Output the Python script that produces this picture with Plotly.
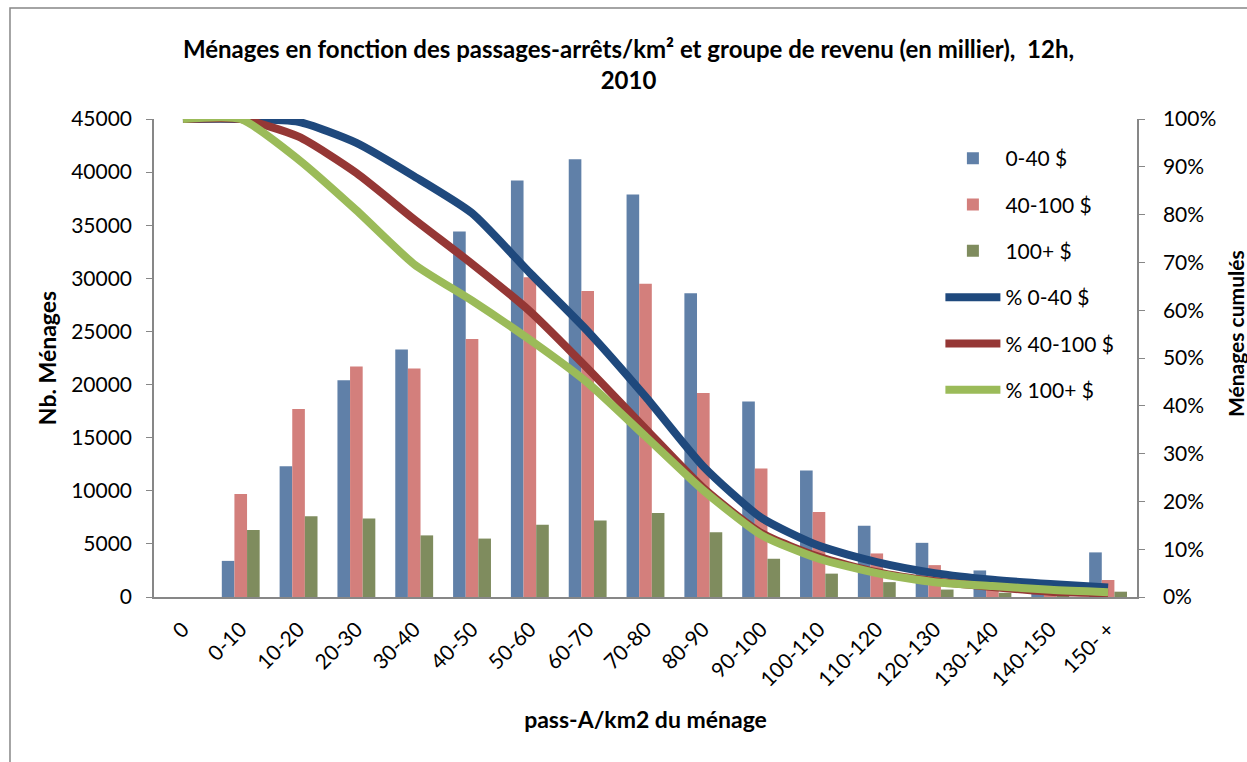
import plotly.graph_objects as go

# Density classes (pass-A/km2) on the category axis
categories = ["0", "0-10", "10-20", "20-30", "30-40", "40-50", "50-60", "60-70",
              "70-80", "80-90", "90-100", "100-110", "110-120", "120-130",
              "130-140", "140-150", "150- +"]

# Households per income group (thousands of $)
menages_0_40 = [0, 3400, 12300, 20400, 23300, 34400, 39200, 41200, 37900,
                28600, 18400, 11900, 6700, 5100, 2500, 600, 4200]
menages_40_100 = [0, 9700, 17700, 21700, 21500, 24300, 30100, 28800, 29500,
                  19200, 12100, 8000, 4100, 3000, 700, 200, 1600]
menages_100_plus = [0, 6300, 7600, 7400, 5800, 5500, 6800, 7200, 7900,
                    6100, 3600, 2200, 1400, 700, 400, 100, 500]

# Cumulative share of households (%), per income group
cumul_0_40 = [100, 100, 99.4, 95.0, 88.0, 80.3, 67.8, 55.6, 41.9, 27.3,
              16.6, 10.7, 7.3, 5.0, 3.6, 2.7, 2.0]
cumul_40_100 = [100, 100, 96.3, 88.7, 79.0, 69.7, 59.8, 47.8, 35.2, 22.8,
                13.4, 8.4, 5.2, 3.3, 2.1, 1.1, 0.8]
cumul_100_plus = [100, 100, 91.5, 80.9, 69.6, 62.0, 53.8, 44.8, 33.6, 22.3,
                  13.0, 8.0, 5.0, 3.1, 2.3, 1.5, 1.0]

FONT = "Lato"
AXIS_GREY = "#878787"
TICK_SIZE = 21

bar_series = [
    ("0-40 $", menages_0_40, "#6080A8"),
    ("40-100 $", menages_40_100, "#D37F7C"),
    ("100+ $", menages_100_plus, "#7F8C5E"),
]
line_series = [
    ("% 0-40 $", cumul_0_40, "#1F497D"),
    ("% 40-100 $", cumul_40_100, "#953735"),
    ("% 100+ $", cumul_100_plus, "#9BBB59"),
]

fig = go.Figure()

for i, (name, vals, fill) in enumerate(bar_series):
    fig.add_trace(go.Bar(
        x=categories, y=vals, name=name, legendgroup=f"g{i}",
        marker=dict(color=fill, line=dict(width=0)),
        yaxis="y",
    ))

for j, (name, vals, col) in enumerate(line_series):
    fig.add_trace(go.Scatter(
        x=categories, y=[v / 100 for v in vals], name=name,
        legendgroup=f"l{j}", mode="lines",
        line=dict(color=col, width=8, shape="spline", smoothing=0.6),
        yaxis="y2",
    ))

fig.update_layout(
    width=1247, height=762,
    margin=dict(l=154, r=110, t=119, b=165),
    paper_bgcolor="white", plot_bgcolor="white",
    font=dict(family=FONT, size=TICK_SIZE, color="black"),
    barmode="group", bargap=0.345, bargroupgap=0,
    title=dict(
        text="Ménages en fonction des passages-arrêts/km² et groupe de revenu (en millier),  12h,<br>2010",
        x=0.504, xanchor="center", y=1 - 58 / 762, yanchor="middle",
        font=dict(family=FONT, size=24, color="black", weight="bold"),
    ),
    xaxis=dict(
        type="category", tickangle=-45, showline=True, linecolor=AXIS_GREY,
        linewidth=1.5, ticks="", showgrid=False, zeroline=False,
        tickfont=dict(size=TICK_SIZE), ticklabelstandoff=10,
        title=dict(text="pass-A/km2 du ménage", standoff=22,
                   font=dict(size=23, weight="bold")),
    ),
    yaxis=dict(
        range=[0, 45000], dtick=5000, tickformat="d", showline=True,
        linecolor=AXIS_GREY, linewidth=1.5, ticks="outside", ticklen=6,
        tickcolor=AXIS_GREY, showgrid=False, zeroline=False,
        tickfont=dict(size=TICK_SIZE), ticklabelstandoff=10,
        title=dict(text="Nb. Ménages", standoff=8,
                   font=dict(size=23, weight="bold")),
    ),
    yaxis2=dict(
        range=[0, 1], dtick=0.1, tickformat=".0%", overlaying="y",
        side="right", showline=True, linecolor=AXIS_GREY, linewidth=1.5,
        ticks="outside", ticklen=6, tickcolor=AXIS_GREY, showgrid=False,
        zeroline=False, tickfont=dict(size=TICK_SIZE), ticklabelstandoff=14,
    ),
    legend=dict(
        x=0.80, y=0.96, xanchor="left", yanchor="top",
        bgcolor="rgba(0,0,0,0)", font=dict(size=TICK_SIZE),
        tracegroupgap=16, itemwidth=55, traceorder="grouped",
    ),
    showlegend=True,
)

# Secondary axis title, set against the right edge of the canvas
fig.add_annotation(
    text="<b>Ménages cumulés</b>", xref="paper", yref="paper",
    x=1.0, y=0.55, xshift=98, textangle=-90, showarrow=False,
    font=dict(size=21, family=FONT), xanchor="center", yanchor="middle",
)

# Outer chart frame
fig.add_shape(
    type="rect", xref="paper", yref="paper",
    x0=-0.1465, x1=1.25, y0=-0.40, y1=1.232,
    line=dict(color=AXIS_GREY, width=1.5), fillcolor="rgba(0,0,0,0)",
    layer="below",
)

fig.write_html("out.html")
